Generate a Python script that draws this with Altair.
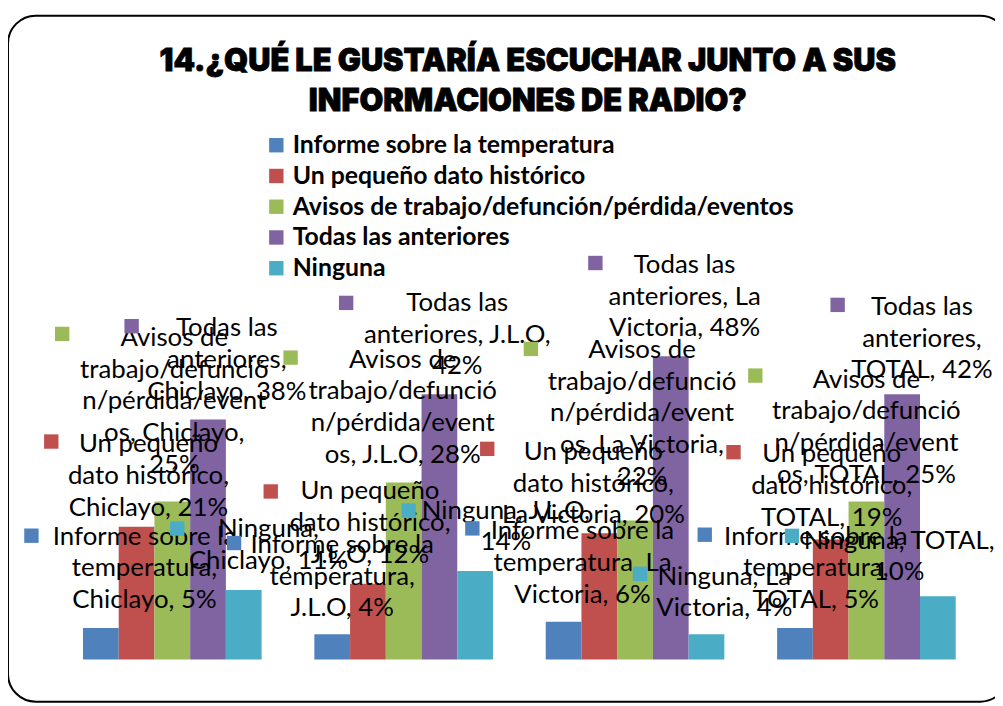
import altair as alt
import pandas as pd

# ---------------- data ----------------
categories = ["Chiclayo", "J.L.O", "La Victoria", "TOTAL"]
series = [
    "Informe sobre la temperatura",
    "Un pequeño dato histórico",
    "Avisos de trabajo/defunción/pérdida/eventos",
    "Todas las anteriores",
    "Ninguna",
]
colors = ["#4F81BD", "#C0504D", "#9BBB59", "#8064A2", "#4BACC6"]

values_informe = [5, 4, 6, 5]
values_dato = [21, 12, 20, 19]
values_avisos = [25, 28, 22, 25]
values_todas = [38, 42, 48, 42]
values_ninguna = [11, 14, 4, 10]
series_values = [values_informe, values_dato, values_avisos, values_todas, values_ninguna]

title_lines = ["14.¿QUÉ LE GUSTARÍA ESCUCHAR JUNTO A SUS", "INFORMACIONES DE RADIO?"]


def lines_for(si, ci):
    c = categories[ci]
    v = series_values[si][ci]
    if si == 0:
        if c == "La Victoria":
            return ["Informe sobre la", "temperatura, La", f"Victoria, {v}%"]
        return ["Informe sobre la", "temperatura,", f"{c}, {v}%"]
    if si == 1:
        return ["Un pequeño", "dato histórico,", f"{c}, {v}%"]
    if si == 2:
        head = ["Avisos de", "trabajo/defunció", "n/pérdida/event"]
        if c in ("Chiclayo", "La Victoria"):
            return head + [f"os, {c},", f"{v}%"]
        return head + [f"os, {c}, {v}%"]
    if si == 3:
        if c == "J.L.O":
            return ["Todas las", f"anteriores, {c},", f"{v}%"]
        if c == "La Victoria":
            return ["Todas las", "anteriores, La", f"Victoria, {v}%"]
        return ["Todas las", "anteriores,", f"{c}, {v}%"]
    if c == "Chiclayo":
        return ["Ninguna,", f"{c}, {v}%"]
    if c == "La Victoria":
        return ["Ninguna, La", f"Victoria, {v}%"]
    return [f"Ninguna, {c},", f"{v}%"]


# pixel offsets of each data label (text dx, dy; key square dx, dy) from the bar-group centre / bar top
label_offsets = {
    (0, 0): (-28, -84, -142, -93), (1, 0): (-24, -75, -122, -86), (2, 0): (2, -157, -111, -169),
    (3, 0): (55, -84, -41, -94), (4, 0): (97, -53, 5, -62),
    (0, 1): (-62, -82, -171, -92), (1, 1): (-34, -85, -134, -93), (2, 1): (-1, -116, -114, -126),
    (3, 1): (54, -84, -58, -92), (4, 1): (103, -53, 5, -61),
    (0, 2): (-53, -83, -164, -94), (1, 2): (-42, -74, -149, -85), (2, 2): (7, -164, -105, -173),
    (3, 2): (50, -84, -40, -94), (4, 2): (90, -50, 5, -61),
    (0, 3): (-51, -84, -163, -94), (1, 3): (-35, -78, -134, -88), (2, 3): (0, -115, -112, -127),
    (3, 3): (56, -80, -29, -90), (4, 3): (33, -48, -75, -61),
}

rows = []
for ci, c in enumerate(categories):
    for si, s in enumerate(series):
        rows.append({"cat": c, "ser": s, "val": series_values[si][ci]})
bars_df = pd.DataFrame(rows)

W, H = 995, 698
LABEL_FONT = "Lato"
LABEL_SIZE = 26

x_enc = alt.X("cat:N", sort=categories, axis=None,
              scale=alt.Scale(domain=categories, range=[49, 982], paddingInner=0.228, paddingOuter=0.114))
y_enc = alt.Y("val:Q", axis=None, scale=alt.Scale(domain=[0, 100], range=[654, 17]))

border = alt.Chart(pd.DataFrame({"k": [0]})).mark_rect(
    fillOpacity=0, stroke="black", strokeWidth=2, cornerRadius=28
).encode(x=alt.value(0), x2=alt.value(1008), y=alt.value(5), y2=alt.value(696.5))

bars = alt.Chart(bars_df).mark_bar().encode(
    x=x_enc,
    xOffset=alt.XOffset("ser:N", sort=series, scale=alt.Scale(domain=series, paddingInner=0, paddingOuter=0)),
    y=y_enc,
    color=alt.Color(
        "ser:N",
        sort=series,
        scale=alt.Scale(domain=series, range=colors),
        legend=alt.Legend(
            orient="none", legendX=258, legendY=123, title=None,
            symbolType="square", symbolSize=210, symbolStrokeWidth=0,
            labelFont=LABEL_FONT, labelFontWeight="bold", labelFontSize=25, labelColor="black",
            labelLimit=800, labelOffset=4, rowPadding=5, padding=0,
        ),
    ),
)

title_layers = []
for i, t in enumerate(title_lines):
    title_layers.append(
        alt.Chart(pd.DataFrame({"t": [t]})).mark_text(
            font="Inter", fontWeight=900, fontSize=31, color="black", align="center", baseline="middle",
            stroke="black", strokeWidth=0.8,
        ).encode(text="t:N", x=alt.value(524), y=alt.value(52 + 40 * i))
    )

label_layers = []
for (si, ci), (tdx, tdy, sdx, sdy) in label_offsets.items():
    df = pd.DataFrame({
        "cat": [categories[ci]],
        "val": [series_values[si][ci]],
        "txt": ["\n".join(lines_for(si, ci))],
    })
    label_layers.append(
        alt.Chart(df).mark_text(
            font=LABEL_FONT, fontSize=LABEL_SIZE, color="black", align="center",
            baseline="alphabetic", lineBreak="\n", lineHeight=32, dx=tdx, dy=tdy,
        ).encode(x=x_enc, y=y_enc, text="txt:N")
    )
    label_layers.append(
        alt.Chart(df).mark_square(
            size=210, opacity=1, filled=True, color=colors[si], xOffset=sdx, yOffset=sdy,
        ).encode(x=x_enc, y=y_enc)
    )

chart = alt.layer(border, bars, *title_layers, *label_layers).properties(
    width=W, height=H, padding=0, autosize=alt.AutoSizeParams(type="none"),
    background="white",
).configure_view(strokeWidth=0)

chart.save("out.html", embed_options={"renderer": "svg", "actions": False})
